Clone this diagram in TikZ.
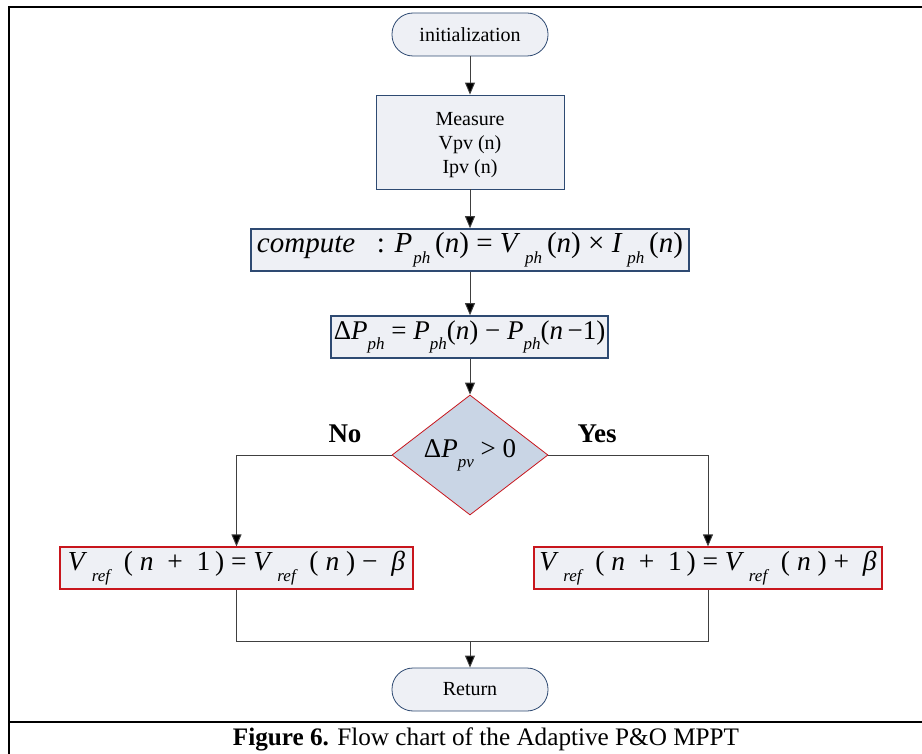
\documentclass[tikz,border=0pt]{standalone}
\usepackage{fontspec}
\setmainfont{Liberation Serif}
\usetikzlibrary{arrows.meta,shapes.geometric}
\definecolor{boxfill}{HTML}{EEF0F5}
\definecolor{boxblue}{HTML}{2E4A72}
\definecolor{diafill}{HTML}{C9D5E5}
\definecolor{redline}{HTML}{C8161D}
\definecolor{conn}{HTML}{404040}
\newcommand{\sbs}[1]{\raisebox{-0.38em}{\fontsize{17}{17}\selectfont\itshape #1}}
\newcommand{\iv}[1]{\textit{#1}}
\tikzset{
  term/.style={draw=boxblue, line width=0.8pt, fill=boxfill, rounded corners=21pt, minimum width=156pt, minimum height=43pt, inner sep=0pt, font=\fontsize{20}{24}\selectfont},
  procbox/.style={draw=boxblue, line width=0.8pt, fill=boxfill, inner sep=0pt, font=\fontsize{20}{24}\selectfont, align=center},
  eqbox/.style={draw=boxblue, line width=1.6pt, fill=boxfill, inner sep=0pt, minimum height=42pt, font=\fontsize{29}{30}\selectfont},
  redbox/.style={draw=redline, line width=1.2pt, fill=boxfill, inner sep=0pt, minimum height=42pt, font=\fontsize{27.5}{30}\selectfont},
  decis/.style={diamond, draw=redline, line width=0.8pt, fill=diafill, inner sep=0pt, minimum width=156pt, minimum height=120pt, aspect=1.3, font=\fontsize{27}{28}\selectfont},
  conline/.style={draw=conn, line width=0.9pt},
  arr/.style={conline, -{Triangle[length=12pt,width=10pt,fill=black]}},
  lbl/.style={font=\fontsize{27}{28}\selectfont\bfseries}
}
\begin{document}
\begin{tikzpicture}[x=1pt,y=-1pt]
\useasboundingbox (0,0) rectangle (922,754);
% frame
\draw[line width=2pt] (922,7.5) -- (8.5,7.5) -- (8.5,754);
\draw[line width=2pt] (8.5,721.5) -- (922,721.5);
% nodes
\node[term] (init) at (470,34.5) {initialization};
\node[procbox, minimum width=188pt, minimum height=94pt] (meas) at (470,142) {\raisebox{-3pt}[\height][\depth]{\begin{tabular}{@{}c@{}}Measure\\Vpv (n)\\Ipv (n)\end{tabular}}};
\node[eqbox, minimum width=438pt] (comp) at (470,250) {\iv{compute}\ \ \ : \iv{P}\kern1pt\sbs{ph}\,(\iv{n}) = \iv{V}\,\sbs{ph}\,(\iv{n}) × \iv{I}\,\sbs{ph}\,(\iv{n})};
\node[eqbox, minimum width=277pt, font=\fontsize{27}{30}\selectfont] (dp) at (469.5,337) {Δ\iv{P}\sbs{ph} = \iv{P}\sbs{ph}(\iv{n}) − \iv{P}\sbs{ph}(\iv{n}\,−1)};
\node[decis] (dec) at (470,455) {Δ\iv{P}\sbs{pv}\ > 0};
\node[redbox, minimum width=353pt] (left) at (236.5,568) {\iv{V}\,\sbs{ref}\ \ (\ \iv{n}\ \ + \ 1\,) = \iv{V}\,\sbs{ref}\ \ (\ \iv{n}\ )\ −\ \ \iv{β}\hspace{12pt}};
\node[redbox, minimum width=348pt] (right) at (708,568) {\iv{V}\,\sbs{ref}\ \ (\ \iv{n}\ \ + \ 1\,) = \iv{V}\,\sbs{ref}\ \ (\ \iv{n}\ )\ +\ \ \iv{β}\hspace{12pt}};
\node[term] (ret) at (470,689.5) {Return};
\node[lbl] (no) at (345,434) {No};
\node[lbl] (yes) at (597,434) {Yes};
\node[font=\fontsize{25.2}{27}\selectfont] (cap) at (486,739) {\textbf{Figure 6.} Flow chart of the Adaptive P\&O MPPT};
\coordinate (lc) at (236.5,455);
\coordinate (rc) at (708,455);
\coordinate (lb) at (236.5,641);
\coordinate (rb) at (708,641);
\coordinate (mb) at (470,641);
% connectors
\draw[arr] (init) -- (meas);
\draw[arr] (meas) -- (comp);
\draw[arr] (comp) -- (dp.north -| comp.south);
\draw[arr] (dp.south -| dec.north) -- (dec.north);
\draw[conline] (dec.west) -- (lc);
\draw[arr] (lc) -- (left.north);
\draw[conline] (dec.east) -- (rc);
\draw[arr] (rc) -- (right.north);
\draw[conline] (left.south) -- (lb) -- (rb) -- (right.south);
\draw[arr] (mb) -- (ret.north);
\end{tikzpicture}
\end{document}
